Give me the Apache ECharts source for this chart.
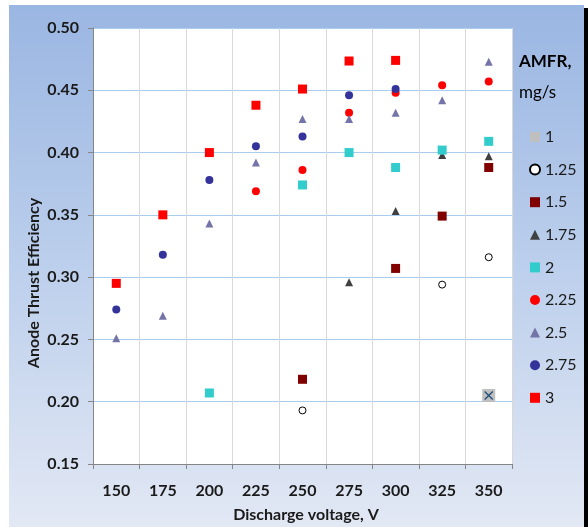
<!DOCTYPE html>
<html>
<head>
<meta charset="utf-8">
<script src="https://cdn.jsdelivr.net/npm/echarts@6/dist/echarts.min.js"></script>
<style>
html,body{margin:0;padding:0;background:#fff;}
#chart{width:588px;height:527px;}
</style>
</head>
<body>
<div id="chart"></div>
<script>
// Discharge voltage categories (V)
var voltages = [150, 175, 200, 225, 250, 275, 300, 325, 350];
var xTickLabels = [150, 175, 200, 225, 250, 275, 300, 325, 350];
var yTickLabels = [0.15, 0.20, 0.25, 0.30, 0.35, 0.40, 0.45, 0.50];

// Anode thrust efficiency per AMFR (mg/s); null = no point
var amfr1    = [null, null, null, null, null, null, null, null, 0.205];
var amfr125  = [null, null, null, null, 0.193, null, null, 0.294, 0.316];
var amfr15   = [null, null, null, null, 0.218, null, 0.307, 0.349, 0.388];
var amfr175  = [null, null, null, null, null, 0.296, 0.353, 0.398, 0.397];
var amfr2    = [null, null, 0.207, null, 0.374, 0.400, 0.388, 0.402, 0.409];
var amfr225  = [null, null, null, 0.369, 0.386, 0.432, 0.448, 0.454, 0.457];
var amfr25   = [0.251, 0.269, 0.343, 0.392, 0.427, 0.427, 0.432, 0.442, 0.473];
var amfr275  = [0.274, 0.318, 0.378, 0.405, 0.413, 0.446, 0.451, null, null];
var amfr3    = [0.295, 0.350, 0.400, 0.438, 0.451, 0.4735, 0.474, null, null];

function pts(arr){
  var out = [];
  for (var i = 0; i < voltages.length; i++) {
    if (arr[i] !== null) out.push([voltages[i], arr[i]]);
  }
  return out;
}

var FONT = 'Lato';
var xPath = 'path://M1,0 L5,4 L9,0 L10,1 L6,5 L10,9 L9,10 L5,6 L1,10 L0,9 L4,5 L0,1 Z';

var chart = echarts.init(document.getElementById('chart'), null, {renderer: 'canvas'});
var option = {
  animation: false,
  backgroundColor: '#ffffff',
  textStyle: {fontFamily: FONT},
  graphic: [
    {type: 'rect', z: -100, shape: {x: 9, y: 5, width: 575, height: 522},
     style: {fill: new echarts.graphic.LinearGradient(0, 0, 0, 1, [
       {offset: 0, color: '#9ab6e2'}, {offset: 0.5, color: '#bccfec'}, {offset: 1, color: '#e2e8f4'}])}},
    {type: 'rect', z: 100, shape: {x: 584, y: 8, width: 4, height: 519}, style: {fill: '#000000'}},
    {type: 'text', z: 100, x: 34, y: 283, rotation: Math.PI / 2,
     style: {text: 'Anode Thrust Efficiency', fontFamily: FONT, fontWeight: 'bold', fontSize: 16,
             fill: '#1a1a1a', textAlign: 'center', textVerticalAlign: 'middle'}},
    {type: 'text', z: 100, x: 306, y: 515,
     style: {text: 'Discharge voltage, V', fontFamily: FONT, fontWeight: 'bold', fontSize: 16,
             fill: '#1a1a1a', textAlign: 'center', textVerticalAlign: 'middle'}},
    {type: 'text', z: 100, x: 519, y: 62,
     style: {text: 'AMFR,', fontFamily: FONT, fontWeight: 'bold', fontSize: 17,
             fill: '#000000', textAlign: 'left', textVerticalAlign: 'middle'}},
    {type: 'text', z: 100, x: 519, y: 93,
     style: {text: 'mg/s', fontFamily: FONT, fontSize: 17,
             fill: '#000000', textAlign: 'left', textVerticalAlign: 'middle'}}
  ],
  grid: {left: 93, top: 28, right: 76, bottom: 63, show: true, backgroundColor: '#ffffff', borderWidth: 0},
  legend: {
    orient: 'vertical', left: 529, top: 129, padding: 0,
    itemWidth: 10, itemHeight: 10, itemGap: 16.6,
    textStyle: {fontFamily: FONT, fontSize: 16, color: '#1a1a1a', lineHeight: 16},
    data: ['1', '1.25', '1.5', '1.75', '2', '2.25', '2.5', '2.75', '3']
  },
  xAxis: {
    type: 'value', min: 137.5, max: 362.5, interval: 12.5,
    axisLine: {show: true, lineStyle: {color: '#868686', width: 1}},
    axisTick: {show: true, length: 5, customValues: [137.5, 162.5, 187.5, 212.5, 237.5, 262.5, 287.5, 312.5, 337.5, 362.5],
               lineStyle: {color: '#868686'}},
    axisLabel: {customValues: xTickLabels, margin: 19, fontFamily: FONT, fontWeight: 'bold', fontSize: 16, color: '#1a1a1a'},
    splitLine: {show: true, lineStyle: {color: '#d9d9d9', width: 1}}
  },
  yAxis: {
    type: 'value', min: 0.15, max: 0.5, interval: 0.05,
    axisLine: {show: true, lineStyle: {color: '#868686', width: 1}},
    axisTick: {show: true, length: 5, lineStyle: {color: '#868686'}},
    axisLabel: {margin: 14, fontFamily: FONT, fontWeight: 'bold', fontSize: 16, color: '#1a1a1a',
                formatter: function(v){ return v.toFixed(2); }},
    splitLine: {show: true, lineStyle: {color: '#a9cdef', width: 1}}
  },
  series: [
    {name: '1', type: 'scatter', data: pts(amfr1), symbol: 'rect', symbolSize: 13,
     itemStyle: {color: '#bfbfbf', opacity: 1}},
    {name: '1', type: 'scatter', data: pts(amfr1), symbol: xPath, symbolSize: 9, z: 3,
     itemStyle: {color: '#1f4e79', opacity: 1}},
    {name: '1.25', type: 'scatter', data: pts(amfr125), symbol: 'circle', symbolSize: 7,
     itemStyle: {color: '#ffffff', borderColor: '#000000', borderWidth: 1, opacity: 1}},
    {name: '1.5', type: 'scatter', data: pts(amfr15), symbol: 'rect', symbolSize: 9,
     itemStyle: {color: '#800000', opacity: 1}},
    {name: '1.75', type: 'scatter', data: pts(amfr175), symbol: 'triangle', symbolSize: 8,
     itemStyle: {color: '#404040', opacity: 1}},
    {name: '2', type: 'scatter', data: pts(amfr2), symbol: 'rect', symbolSize: 9,
     itemStyle: {color: '#33cccc', opacity: 1}},
    {name: '2.25', type: 'scatter', data: pts(amfr225), symbol: 'circle', symbolSize: 8,
     itemStyle: {color: '#ff0000', opacity: 1}},
    {name: '2.5', type: 'scatter', data: pts(amfr25), symbol: 'triangle', symbolSize: 8,
     itemStyle: {color: '#7474a8', opacity: 1}},
    {name: '2.75', type: 'scatter', data: pts(amfr275), symbol: 'circle', symbolSize: 8,
     itemStyle: {color: '#333399', opacity: 1}},
    {name: '3', type: 'scatter', data: pts(amfr3), symbol: 'rect', symbolSize: 9,
     itemStyle: {color: '#ff0000', opacity: 1}}
  ]
};
chart.setOption(option);
</script>
</body>
</html>
